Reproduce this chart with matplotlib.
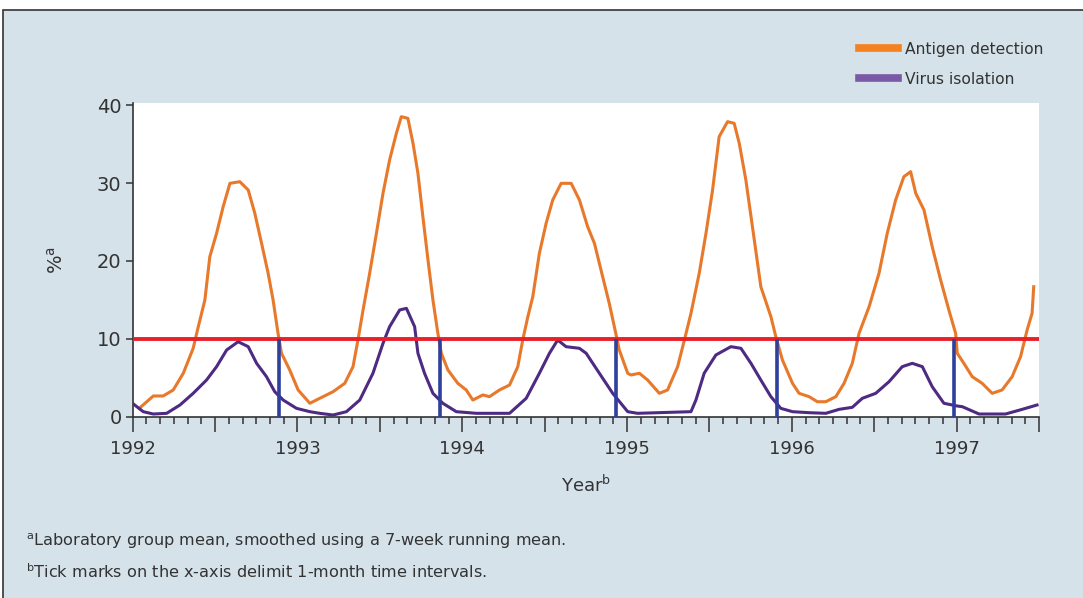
import matplotlib
matplotlib.use("Agg")
import matplotlib.pyplot as plt
from matplotlib.lines import Line2D
from matplotlib.patches import Rectangle
import numpy as np

# antigen detection (%)
antigen_x = [1992.04, 1992.125, 1992.185, 1992.246, 1992.307, 1992.367, 1992.398, 1992.438, 1992.468,
             1992.509, 1992.549, 1992.590, 1992.650, 1992.701, 1992.741, 1992.782, 1992.822, 1992.852,
             1992.882, 1992.903, 1992.953, 1993.004, 1993.075, 1993.135, 1993.216, 1993.287, 1993.337,
             1993.367, 1993.398, 1993.438, 1993.479, 1993.519, 1993.559, 1993.600, 1993.630, 1993.670,
             1993.701, 1993.731, 1993.761, 1993.792, 1993.822, 1993.852, 1993.873, 1993.913, 1993.973,
             1994.024, 1994.064, 1994.125, 1994.165, 1994.226, 1994.287, 1994.337, 1994.367, 1994.398,
             1994.428, 1994.468, 1994.509, 1994.549, 1994.600, 1994.661, 1994.711, 1994.761, 1994.802,
             1994.852, 1994.892, 1994.923, 1994.953, 1995.004, 1995.024, 1995.075, 1995.125, 1995.196,
             1995.246, 1995.307, 1995.348, 1995.388, 1995.438, 1995.479, 1995.519, 1995.559, 1995.610,
             1995.650, 1995.681, 1995.721, 1995.761, 1995.812, 1995.873, 1995.903, 1995.943, 1996.004,
             1996.044, 1996.105, 1996.155, 1996.206, 1996.267, 1996.317, 1996.367, 1996.408, 1996.469,
             1996.529, 1996.579, 1996.630, 1996.680, 1996.721, 1996.752, 1996.802, 1996.852, 1996.903,
             1996.953, 1996.994, 1997.004, 1997.044, 1997.095, 1997.155, 1997.216, 1997.276, 1997.337,
             1997.388, 1997.428, 1997.458, 1997.468]
antigen_y = [1.05, 2.64, 2.64, 3.41, 5.56, 8.77, 11.55, 14.98, 20.55,
             23.56, 26.98, 29.99, 30.20, 29.13, 26.14, 22.28, 18.42, 14.98,
             10.70, 8.13, 5.98, 3.41, 1.70, 2.34, 3.19, 4.27, 6.41,
             9.84, 13.70, 18.42, 23.56, 28.71, 32.99, 36.42, 38.56, 38.35,
             35.14, 31.28, 25.70, 20.13, 14.98, 10.70, 8.13, 5.98, 4.27,
             3.41, 2.12, 2.77, 2.55, 3.41, 4.05, 6.41, 9.84, 12.84,
             15.41, 20.99, 24.85, 27.85, 29.99, 29.99, 27.85, 24.41, 22.28,
             17.98, 14.56, 11.55, 8.55, 5.56, 5.34, 5.56, 4.69, 2.98,
             3.41, 6.41, 9.84, 13.27, 18.42, 23.56, 29.13, 35.99, 37.92,
             37.71, 35.14, 30.42, 24.41, 16.69, 12.84, 10.26, 7.27, 4.27,
             2.98, 2.55, 1.90, 1.90, 2.55, 4.27, 6.84, 10.70, 14.12,
             18.42, 23.56, 27.85, 30.84, 31.49, 28.71, 26.56, 21.84, 17.56,
             13.70, 10.70, 8.13, 6.84, 5.12, 4.27, 2.98, 3.41, 5.12,
             7.69, 11.13, 13.27, 16.69]

# virus isolation (%)
virus_x = [1992.004, 1992.064, 1992.125, 1992.206, 1992.287, 1992.367, 1992.448, 1992.509, 1992.570,
           1992.640, 1992.701, 1992.752, 1992.812, 1992.862, 1992.913, 1992.994, 1993.075, 1993.135,
           1993.216, 1993.297, 1993.378, 1993.458, 1993.519, 1993.559, 1993.620, 1993.661, 1993.711,
           1993.731, 1993.771, 1993.822, 1993.882, 1993.964, 1994.085, 1994.287, 1994.388, 1994.468,
           1994.529, 1994.579, 1994.630, 1994.711, 1994.752, 1994.832, 1994.913, 1995.004, 1995.064,
           1995.388, 1995.418, 1995.468, 1995.539, 1995.630, 1995.691, 1995.752, 1995.812, 1995.873,
           1995.933, 1996.004, 1996.105, 1996.206, 1996.287, 1996.367, 1996.428, 1996.509, 1996.590,
           1996.670, 1996.731, 1996.792, 1996.852, 1996.923, 1997.004, 1997.035, 1997.136, 1997.297,
           1997.398, 1997.488]
virus_y = [1.61, 0.62, 0.32, 0.41, 1.48, 2.98, 4.69, 6.41, 8.55,
           9.62, 8.98, 6.84, 5.12, 3.19, 2.12, 1.05, 0.62, 0.41,
           0.19, 0.62, 2.12, 5.56, 9.41, 11.55, 13.70, 13.91, 11.55,
           8.13, 5.56, 2.98, 1.70, 0.62, 0.41, 0.41, 2.34, 5.56,
           8.13, 9.84, 8.98, 8.77, 8.13, 5.56, 2.98, 0.62, 0.41,
           0.62, 2.12, 5.56, 7.91, 8.98, 8.77, 6.84, 4.69, 2.55,
           1.05, 0.62, 0.49, 0.41, 0.92, 1.18, 2.34, 2.98, 4.48,
           6.41, 6.84, 6.41, 3.83, 1.70, 1.35, 1.26, 0.32, 0.32,
           0.92, 1.48]

threshold = 10
season_ends = [1992.887, 1993.867, 1994.933, 1995.913, 1996.984]

bg = "#d5e2ea"
fig = plt.figure(figsize=(10.83, 5.98), dpi=100, facecolor="white")
fig.patches.append(Rectangle((3 / 1083, -0.2), 1.2, 1.2 - 10 / 598, transform=fig.transFigure,
                             facecolor=bg, edgecolor="#333333", linewidth=1.2, zorder=-10))

ax = fig.add_axes([132.7 / 1083, 1 - 416.5 / 598, (1039 - 132.7) / 1083, (416.5 - 102.7) / 598])
ax.set_facecolor("white")

ax.plot(antigen_x, antigen_y, color="#e8782a", lw=2.2, zorder=3, solid_joinstyle="round")
ax.plot(virus_x, virus_y, color="#4e2a82", lw=2.2, zorder=3, solid_joinstyle="round")
ax.axhline(threshold, color="#e8202a", lw=2.8, zorder=4)
ax.vlines(season_ends, 0, threshold, color="#2e3f9e", lw=2.6, zorder=5)

ax.set_xlim(1992, 1997.5)
ax.set_ylim(0, 40.36)
ax.set_yticks([0, 10, 20, 30, 40])
half_years = np.arange(1992, 1997.51, 0.5)
ax.set_xticks(half_years)
ax.set_xticklabels([str(int(v)) if v == int(v) else "" for v in half_years])
ax.set_xticks(np.arange(1992, 1997.51, 1 / 12), minor=True)

for s in ["top", "right"]:
    ax.spines[s].set_visible(False)
for s in ["left", "bottom"]:
    ax.spines[s].set_color("#333333")
    ax.spines[s].set_linewidth(1.2)

ax.tick_params(axis="x", which="major", direction="out", length=11, width=1.1, color="#333333",
               labelsize=13, labelcolor="#333333", pad=6)
ax.tick_params(axis="x", which="minor", direction="out", length=5, width=1.1, color="#333333")
ax.tick_params(axis="y", direction="out", length=5, width=1.1, color="#333333",
               labelsize=14, labelcolor="#333333", pad=3)

ax.set_ylabel(r"%$^{\mathrm{a}}$", fontsize=14, color="#333333", labelpad=22)
ax.set_xlabel(r"Year$^{\mathrm{b}}$", fontsize=13, color="#333333", labelpad=12)

handles = [Line2D([], [], color="#f5821f", lw=5.5), Line2D([], [], color="#7a5aa6", lw=5.5)]
fig.legend(handles, ["Antigen detection", "Virus isolation"], loc="upper left",
           bbox_to_anchor=(851 / 1083, 1 - 34 / 598), frameon=False, fontsize=11.2,
           handlelength=2.5, handletextpad=0.45, labelspacing=0.95, borderpad=0,
           labelcolor="#333333")

fig.text(26 / 1083, 1 - 541 / 598, r"$^{\mathrm{a}}$Laboratory group mean, smoothed using a 7-week running mean.",
         fontsize=11.6, color="#333333", va="center")
fig.text(26 / 1083, 1 - 572 / 598, r"$^{\mathrm{b}}$Tick marks on the x-axis delimit 1-month time intervals.",
         fontsize=11.6, color="#333333", va="center")

fig.savefig("out.png", dpi=100, facecolor=fig.get_facecolor())
